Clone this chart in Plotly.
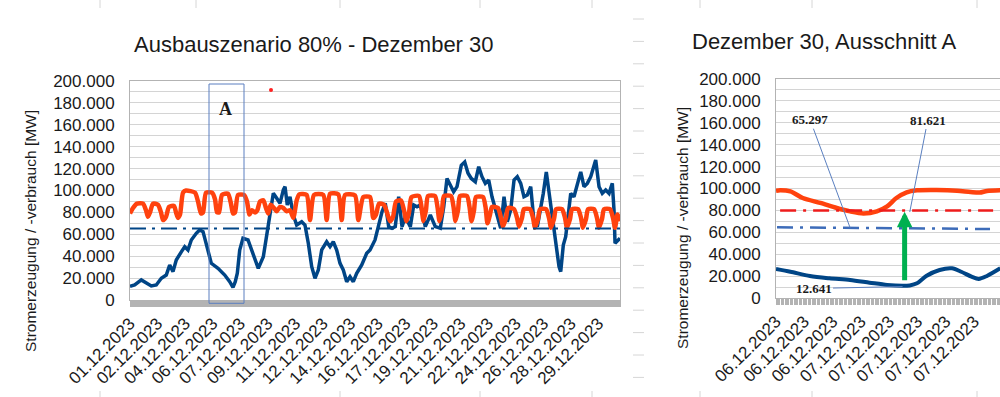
import plotly.graph_objects as go

# ---------------- LEFT CHART DATA (hours since 01.12.2023 00:00) ----------------
gen_hours = [0, 6.9, 16.6, 24.0, 31.3, 38.6, 46.0, 53.3, 58.3, 63.2,
             68.0, 75.4, 80.4, 85.2, 90.1, 97.4, 102.4, 107.3, 112.1, 119.5,
             129.3, 139.2, 146.5, 151.3, 154.7, 157.7, 161.2, 166.0, 173.4, 183.7,
             188.5, 195.9, 200.9, 205.7, 210.6, 215.6, 220.4, 225.3, 227.8, 231.1,
             235.1, 240.0, 244.9, 252.3, 257.1, 262.0, 267.0, 271.8, 276.7, 281.7,
             289.0, 293.9, 298.7, 303.7, 308.6, 313.4, 318.4, 323.3, 328.1, 333.1,
             340.5, 347.8, 352.7, 360.0, 370.3, 375.1, 380.1, 385.0, 389.8, 394.8,
             399.7, 404.5, 411.9, 416.9, 421.7, 426.6, 433.9, 441.3, 448.6, 456.0,
             461.0, 465.8, 470.6, 475.6, 480.5, 486.8, 491.8, 496.7, 501.5, 507.4,
             512.4, 517.2, 522.1, 527.1, 531.9, 537.8, 544.7, 549.6, 554.4, 559.4,
             564.3, 569.1, 574.1, 578.9, 583.8, 588.8, 593.6, 598.5, 603.5, 607.3,
             611.7, 615.7, 620.5, 625.5, 630.4, 632.9, 636.7, 640.2, 643.6, 647.6,
             652.4, 657.3, 662.3, 667.1, 672.0, 677.0, 681.8, 684.3, 689.2, 694.0,
             699.0, 703.9, 708.7, 711.2, 712.7, 717.1, 720]
gen_mw = [12500, 13700, 18300, 15800, 12800, 13700, 19800, 22800, 32000, 25900,
          36500, 44000, 48700, 45700, 54800, 60900, 64000, 62400, 51800, 33500,
          28900, 22800, 16700, 11600, 16700, 24400, 45700, 56300, 54800, 36500,
          28900, 39500, 57800, 76000, 97400, 92900, 88300, 100500, 103500, 86800,
          94300, 77600, 68500, 71500, 68500, 51800, 30400, 19800, 27400, 45700,
          53200, 48700, 53200, 45700, 33500, 27400, 16700, 21300, 16700, 24400,
          32000, 42600, 45700, 54800, 80600, 88300, 67000, 65500, 67000, 94300,
          67000, 76000, 67000, 86800, 85200, 86800, 67000, 77600, 67000, 65500,
          85200, 111000, 105000, 98900, 103500, 123000, 126000, 115700, 111000, 108000,
          121700, 112600, 106500, 109600, 94300, 80000, 65500, 94300, 71500, 82200,
          109600, 112600, 106500, 94300, 95900, 103500, 71500, 67000, 83700, 97400,
          117000, 97400, 73000, 48700, 30400, 25900, 50200, 57800, 76000, 97400,
          94300, 106500, 117000, 103500, 106500, 112600, 124800, 127900, 103500, 97400,
          100500, 97400, 106500, 82200, 51800, 54800, 56300]

load_hours = [0, 4.4, 10.3, 19.1, 23.5, 26.4, 29.4, 33.8, 41.1, 45.6,
              48.5, 52.9, 57.3, 64.7, 67.6, 70.5, 73.5, 77.9, 82.3, 95.5,
              99.9, 104.3, 107.3, 111.7, 120.5, 124.9, 127.9, 130.8, 135.2, 144.0,
              148.4, 151.3, 154.3, 158.7, 167.5, 171.9, 175.6, 179.3, 183.7, 187.1,
              191.0, 195.9, 199.8, 203.2, 206.7, 211.6, 215.6, 220.4, 225.3, 230.3,
              235.1, 240.0, 244.9, 248.8, 259.6, 264.5, 270.4, 284.0, 289.0, 293.9,
              306.1, 311.1, 316.0, 330.6, 335.5, 342.8, 352.7, 357.5, 361.5, 365.9,
              373.2, 377.6, 382.0, 386.5, 390.9, 398.2, 402.6, 406.3, 410.0, 413.6,
              424.7, 428.3, 431.3, 434.9, 437.9, 448.2, 451.8, 454.8, 458.5, 461.4,
              471.7, 475.4, 478.3, 482.0, 484.9, 495.2, 498.9, 501.8, 505.5, 508.4,
              518.7, 522.4, 525.3, 529.0, 531.9, 540.7, 545.1, 548.1, 552.5, 555.4,
              564.2, 568.7, 571.6, 576.0, 578.9, 587.8, 592.2, 595.1, 599.5, 602.5,
              611.3, 615.7, 618.6, 623.0, 626.0, 634.8, 639.2, 642.1, 646.6, 649.5,
              658.3, 662.7, 665.6, 670.1, 673.0, 681.8, 686.2, 689.2, 693.6, 696.5,
              705.3, 709.7, 712.7, 716.3, 720]
load_mw = [79000, 84000, 88000, 88000, 82000, 76000, 80000, 88000, 87000, 80000,
           73000, 76000, 85000, 86000, 80000, 75000, 78000, 98000, 100000, 98000,
           90000, 79000, 80000, 98000, 98000, 92000, 80000, 80000, 96000, 97000,
           88000, 79000, 80000, 96000, 96000, 90000, 78000, 82000, 80000, 82000,
           90000, 91000, 84000, 79000, 87000, 84000, 81000, 85000, 84000, 81000,
           82000, 75000, 91000, 96500, 96000, 73000, 96000, 96000, 73000, 97000,
           96500, 73000, 96000, 95500, 73000, 94000, 94000, 75000, 78000, 88000,
           87000, 80000, 72000, 76000, 90000, 91000, 82000, 72000, 80000, 94000,
           95000, 85000, 72000, 82000, 95000, 95000, 85000, 72000, 82000, 95000,
           95000, 85000, 72000, 82000, 95000, 95000, 85000, 72000, 82000, 94000,
           94000, 85000, 70000, 78000, 85000, 84000, 75000, 67000, 75000, 84000,
           83000, 75000, 67000, 75000, 83000, 83000, 75000, 66000, 74000, 83000,
           83000, 75000, 66000, 74000, 83000, 83000, 75000, 66000, 74000, 83000,
           83000, 75000, 66000, 74000, 83000, 83000, 75000, 66000, 74000, 83000,
           83000, 75000, 66000, 78000, 72000]

threshold_hours = [0, 720]
threshold_mw = [65297, 65297]
stray_point_hours = [207.2]
stray_point_mw = [191800]

left_tick_labels = ["01.12.2023", "02.12.2023", "04.12.2023", "06.12.2023", "07.12.2023",
                    "09.12.2023", "11.12.2023", "12.12.2023", "14.12.2023", "16.12.2023",
                    "17.12.2023", "19.12.2023", "21.12.2023", "22.12.2023", "24.12.2023",
                    "26.12.2023", "28.12.2023", "29.12.2023"]
LEFT_TICK_STEP_H = 40.5
LEFT_SPAN_H = 720

# ---------------- RIGHT CHART DATA (Ausschnitt A) ----------------
zoom_load_hours = [138.0, 138.4, 139.4, 140.6, 142.3, 143.9, 145.2, 146.5, 147.8, 148.8,
                   149.7, 150.7, 151.7, 153.6, 155.6, 156.9, 157.8, 158.5, 159.8]
zoom_load_mw = [98000, 98500, 97400, 91300, 86800, 82200, 79100, 77200, 79100, 83700,
                91300, 96500, 98300, 98600, 98000, 96800, 96300, 97800, 98500]
zoom_gen_hours = [138.0, 139.4, 141.3, 143.2, 145.2, 147.1, 148.8, 150.3, 151.0, 151.7,
                  152.6, 153.9, 155.1, 156.0, 157.0, 157.7, 158.5, 159.8]
zoom_gen_mw = [26500, 24000, 20100, 18000, 16400, 14000, 11900, 11200, 11500, 13400,
               20100, 25600, 27100, 24000, 19500, 17400, 20100, 27100]
zoom_red_hours = [138.4, 159.1]
zoom_red_mw = [80000, 80000]
zoom_bluedash_hours = [138.1, 158.8]
zoom_bluedash_mw = [64600, 63000]
right_tick_labels = ["06.12.2023"] * 3 + ["07.12.2023"] * 5
RIGHT_START_H = 138.0
RIGHT_END_H = 159.77
RIGHT_TICK_STEP_H = 2.75
arrow_hour = 150.5
arrow_from_mw = 14900
arrow_to_mw = 78800

y_tick_vals = [0, 20000, 40000, 60000, 80000, 100000, 120000, 140000, 160000, 180000, 200000]
y_tick_text = ["0", "20.000", "40.000", "60.000", "80.000", "100.000", "120.000",
               "140.000", "160.000", "180.000", "200.000"]

# ---------------- STYLE ----------------
W, H = 1000, 397
BLUE = "#004586"
ORANGE = "#FF420E"
GRID = "#d4d4d4"
AXLINE = "#b3b3b3"
TXT = "#1a1a1a"
FONT = "Liberation Sans"
SERIF = "Liberation Serif"

fig = go.Figure()

# left chart
fig.add_trace(go.Scatter(x=gen_hours, y=gen_mw, mode="lines", line=dict(color=BLUE, width=3.5),
                         xaxis="x", yaxis="y", hoverinfo="skip"))
fig.add_trace(go.Scatter(x=load_hours, y=load_mw, mode="lines",
                         line=dict(color=ORANGE, width=4.5, shape="spline", smoothing=0.6),
                         xaxis="x", yaxis="y", hoverinfo="skip"))
fig.add_trace(go.Scatter(x=threshold_hours, y=threshold_mw, mode="lines",
                         line=dict(color=BLUE, width=2.2, dash="16px,6px,3px,6px"),
                         xaxis="x", yaxis="y", hoverinfo="skip"))
fig.add_trace(go.Scatter(x=stray_point_hours, y=stray_point_mw, mode="markers",
                         marker=dict(color="#ff2020", size=4), xaxis="x", yaxis="y", hoverinfo="skip"))

# right chart
fig.add_trace(go.Scatter(x=zoom_gen_hours, y=zoom_gen_mw, mode="lines",
                         line=dict(color=BLUE, width=4, shape="spline", smoothing=0.8),
                         xaxis="x2", yaxis="y2", hoverinfo="skip"))
fig.add_trace(go.Scatter(x=zoom_load_hours, y=zoom_load_mw, mode="lines",
                         line=dict(color=ORANGE, width=4.5, shape="spline", smoothing=0.8),
                         xaxis="x2", yaxis="y2", hoverinfo="skip"))
fig.add_trace(go.Scatter(x=zoom_red_hours, y=zoom_red_mw, mode="lines",
                         line=dict(color="#ee1c1c", width=2.5, dash="16px,7px,3px,7px"),
                         xaxis="x2", yaxis="y2", hoverinfo="skip"))
fig.add_trace(go.Scatter(x=zoom_bluedash_hours, y=zoom_bluedash_mw, mode="lines",
                         line=dict(color="#3d6cb9", width=2.5, dash="16px,7px,3px,7px"),
                         xaxis="x2", yaxis="y2", hoverinfo="skip"))

tickfont = dict(family=FONT, size=17, color=TXT)

def ydomain(top_px, bottom_px):
    return [1 - bottom_px / H, 1 - top_px / H]

common_y = dict(range=[0, 200000], tickmode="array", tickvals=y_tick_vals, ticktext=y_tick_text,
                showgrid=True, gridcolor=GRID, gridwidth=1, zeroline=False,
                minor=dict(dtick=10000, showgrid=True, gridcolor=GRID, gridwidth=1),
                showline=True, linecolor=AXLINE, linewidth=1, ticks="", ticklabelstandoff=11,
                tickfont=tickfont, fixedrange=True, automargin=False)

fig.update_layout(
    width=W, height=H, margin=dict(l=0, r=0, t=0, b=0, autoexpand=False),
    paper_bgcolor="white", plot_bgcolor="white", showlegend=False,
    xaxis=dict(domain=[0.130, 0.620], range=[0, LEFT_SPAN_H], anchor="y", automargin=False,
               tickmode="array", tickvals=[i * LEFT_TICK_STEP_H for i in range(len(left_tick_labels))],
               ticktext=left_tick_labels, tickangle=-45, tickfont=tickfont,
               ticks="outside", ticklen=6, tickcolor=AXLINE, tickwidth=1,
               minor=dict(ticks="outside", ticklen=6, tickcolor=AXLINE, tickwidth=1, dtick=1, tick0=0,
                          showgrid=False),
               showgrid=False, zeroline=False, showline=True, linecolor=AXLINE, mirror=True,
               fixedrange=True),
    yaxis=dict(domain=ydomain(81, 300), anchor="x", mirror=True, **common_y),
    xaxis2=dict(domain=[0.776, 1.0], range=[RIGHT_START_H, RIGHT_END_H], anchor="y2", automargin=False,
                tickmode="array",
                tickvals=[RIGHT_START_H + i * RIGHT_TICK_STEP_H for i in range(len(right_tick_labels))],
                ticktext=right_tick_labels, tickangle=-45, tickfont=tickfont,
                ticks="outside", ticklen=6, tickcolor=AXLINE, tickwidth=1,
                minor=dict(ticks="outside", ticklen=6, tickcolor=AXLINE, tickwidth=1, dtick=0.125,
                           tick0=RIGHT_START_H, showgrid=False),
                showgrid=False, zeroline=False, showline=True, linecolor=AXLINE, mirror=True,
                fixedrange=True),
    yaxis2=dict(domain=ydomain(79, 298), anchor="x2", mirror=False, **common_y),
)

# spreadsheet cell grid peeking around the charts
shapes = []
for xp in [100, 196, 340, 480, 592, 700, 812, 977]:
    shapes.append(dict(type="line", xref="paper", yref="paper", x0=xp / W, x1=xp / W,
                       y0=1, y1=1 - 8 / H, line=dict(color="#d6d6d6", width=1)))
for xp in [100, 340, 480, 592, 700, 812, 977]:
    shapes.append(dict(type="line", xref="paper", yref="paper", x0=xp / W, x1=xp / W,
                       y0=1 - 391 / H, y1=0, line=dict(color="#d6d6d6", width=1)))
for i in range(17):
    yp = 19 + 22.4 * i
    shapes.append(dict(type="line", xref="paper", yref="paper", x0=633 / W, x1=644 / W,
                       y0=1 - yp / H, y1=1 - yp / H, line=dict(color="#d6d6d6", width=1)))
# section A frame
shapes.append(dict(type="rect", xref="x domain", yref="y domain",
                   x0=(209 - 130) / 490, x1=(244 - 130) / 490, y0=(300 - 303.3) / 219, y1=(300 - 84) / 219,
                   line=dict(color="#5a7fc0", width=1), fillcolor="rgba(0,0,0,0)"))
fig.update_layout(shapes=shapes)

ann = []
ann.append(dict(text="Ausbauszenario 80% - Dezember 30", x=313.5 / W, y=1 - 44 / H, xref="paper", yref="paper",
                showarrow=False, xanchor="center", yanchor="middle", font=dict(family=FONT, size=22, color=TXT)))
ann.append(dict(text="Dezember 30, Ausschnitt A", x=824 / W, y=1 - 42 / H, xref="paper", yref="paper",
                showarrow=False, xanchor="center", yanchor="middle", font=dict(family=FONT, size=22, color=TXT)))
ann.append(dict(text="Stromerzeugung / -verbrauch [MW]", x=30 / W, y=1 - 231 / H, xref="paper", yref="paper",
                showarrow=False, textangle=-90, xanchor="center", yanchor="middle",
                font=dict(family=FONT, size=15.5, color=TXT)))
ann.append(dict(text="Stromerzeugung / -verbrauch [MW]", x=682 / W, y=1 - 228 / H, xref="paper", yref="paper",
                showarrow=False, textangle=-90, xanchor="center", yanchor="middle",
                font=dict(family=FONT, size=15.5, color=TXT)))
ann.append(dict(text="<b>A</b>", x=(225 - 130) / 490, y=(300 - 109) / 219, xref="x domain", yref="y domain",
                showarrow=False, xanchor="center", yanchor="middle", font=dict(family=SERIF, size=18, color=TXT)))
lead = "#5a7fc0"
ann.append(dict(text="<b>65.297</b>", x=145.2, y=64200, xref="x2", yref="y2", ax=-40, ay=-108,
                showarrow=True, arrowhead=0, arrowwidth=1, arrowcolor=lead,
                font=dict(family=SERIF, size=13, color=TXT)))
ann.append(dict(text="<b>81.621</b>", x=151.0, y=78500, xref="x2", yref="y2", ax=18, ay=-92,
                showarrow=True, arrowhead=0, arrowwidth=1, arrowcolor=lead,
                font=dict(family=SERIF, size=13, color=TXT)))
ann.append(dict(text="<b>12.641</b>", x=150.3, y=10500, xref="x2", yref="y2", ax=-89, ay=2,
                showarrow=True, arrowhead=0, arrowwidth=1, arrowcolor=lead,
                font=dict(family=SERIF, size=13, color=TXT)))
ann.append(dict(text="", x=arrow_hour, y=arrow_to_mw, xref="x2", yref="y2",
                ax=arrow_hour, ay=arrow_from_mw, axref="x2", ayref="y2",
                showarrow=True, arrowhead=2, arrowwidth=5, arrowsize=0.62, arrowcolor="#00B050"))
fig.update_layout(annotations=ann)

# remove the default 8px page margin so the 1000x397 figure fills the window exactly
fig.write_html("out.html", config={"displayModeBar": False},
               post_script="document.body.style.margin='0';document.body.style.overflow='hidden';")
